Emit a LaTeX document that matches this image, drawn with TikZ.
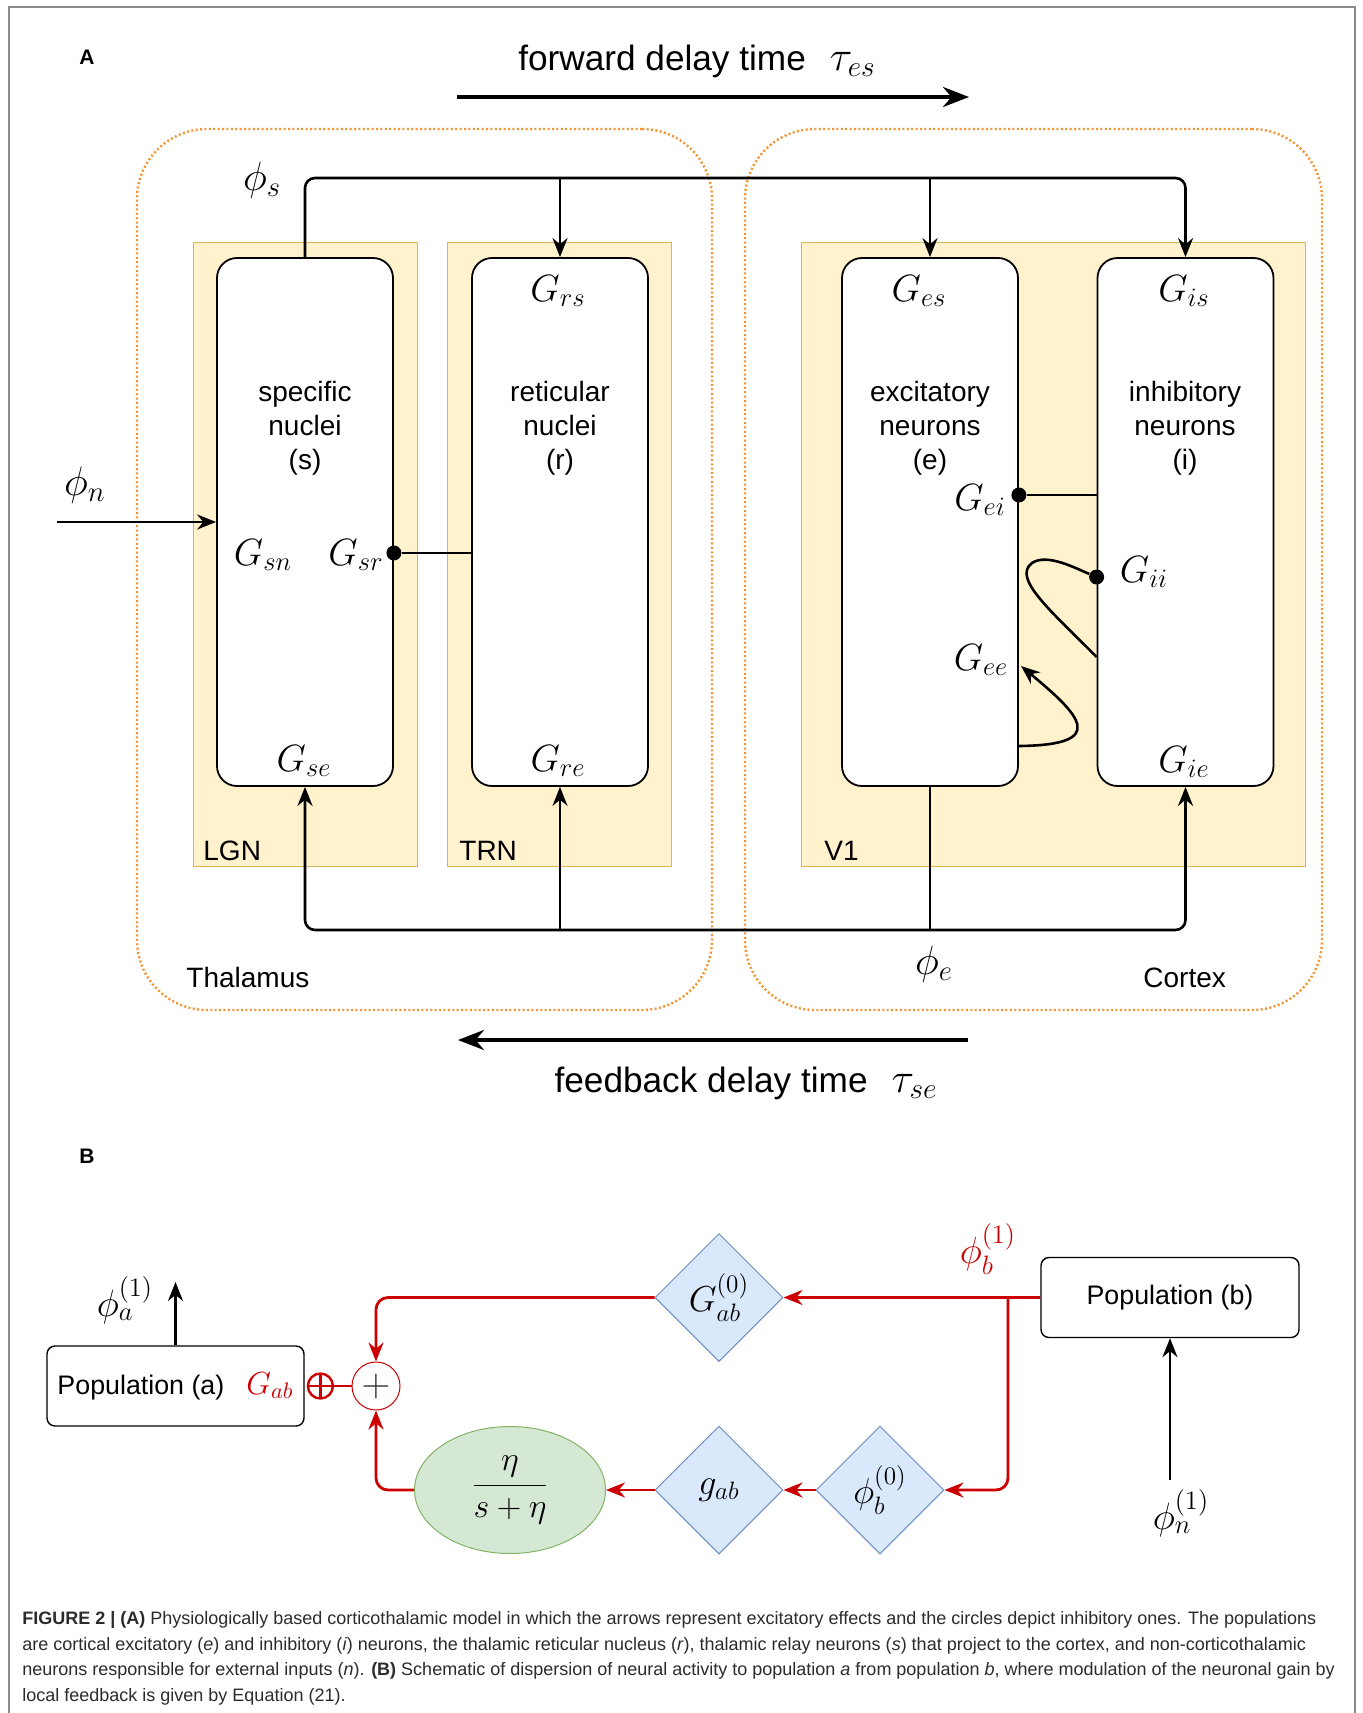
\RequirePackage{fix-cm}
\documentclass[tikz,border=0pt]{standalone}
\usepackage{amsmath}
\usepackage[no-math]{fontspec}
\setmainfont{Liberation Sans}
\usepackage{tikz}
\usetikzlibrary{
  shapes.geometric,
  arrows.meta,
  positioning,
  calc
}
\definecolor{RegionOrange}{HTML}{F39432}
\definecolor{PanelFill}{HTML}{FFF2CC}
\definecolor{PanelEdge}{HTML}{D6B656}
\definecolor{GainFill}{HTML}{DAE8FC}
\definecolor{GainEdge}{HTML}{6C8EBF}
\definecolor{FilterFill}{HTML}{D5E8D4}
\definecolor{FilterEdge}{HTML}{82B366}
\definecolor{LinkRed}{HTML}{CC0000}
\definecolor{FrameGrey}{HTML}{8A8A8A}
\definecolor{CaptionInk}{HTML}{2B2B2B}
\tikzset{
  % Dotted region outline (thalamus / cortex)
  region/.style={
    rectangle, rounded corners=35pt,
    draw=RegionOrange, line width=1.2pt, dash pattern=on 1pt off 1.2pt,
    minimum width=#1, minimum height=440.5pt, inner sep=0pt
  },
  % Pale yellow area panel
  panel/.style={
    rectangle, draw=PanelEdge, fill=PanelFill, line width=0.5pt,
    minimum width=#1, minimum height=312pt, inner sep=0pt
  },
  % Population box: tall, rounded
  popbox/.style={
    rectangle, rounded corners=10pt, draw=black, fill=white,
    line width=0.9pt, minimum width=88pt, minimum height=264pt, inner sep=0pt
  },
  % Text inside a population box
  poptext/.style={align=center, font=\fontsize{14}{17}\selectfont, inner sep=0pt},
  % Area / region name
  areaname/.style={anchor=west, font=\fontsize{14}{17}\selectfont, inner sep=0pt},
  % Gain symbol
  gain/.style={font=\fontsize{19}{19}\selectfont, inner sep=0pt},
  % Field symbol
  field/.style={font=\fontsize{20.5}{20.5}\selectfont, inner sep=0pt},
  % Inhibitory end point
  blob/.style={circle, fill=black, minimum size=7.5pt, inner sep=0pt},
  % Arrow
  arr/.style={
    -{Stealth[length=9.5pt,width=7.5pt]},
    line width=1.3pt, color=#1
  },
  arr/.default=black,
  % Plain line
  wire/.style={line width=1.3pt, color=#1},
  wire/.default=black,
  % Red feedback link
  redarr/.style={arr=LinkRed, line width=1.4pt},
  % Delay arrow
  delay/.style={-{Stealth[length=13pt,width=10pt]}, line width=2pt},
  delaytext/.style={anchor=base, font=\fontsize{17.6}{20}\selectfont, inner sep=0pt},
  % Panel letter
  letter/.style={font=\fontsize{10.5}{12}\selectfont\bfseries, inner sep=0pt},
  % Wide population box (panel B)
  popwide/.style={
    rectangle, rounded corners=4pt, draw=black, line width=0.7pt,
    minimum width=#1, minimum height=40pt, inner sep=0pt,
    font=\fontsize{13.4}{16}\selectfont
  },
  % Gain diamond
  gainbox/.style={
    diamond, aspect=1, draw=GainEdge, fill=GainFill, line width=0.5pt,
    minimum width=64pt, minimum height=64pt, inner sep=0pt,
    font=\fontsize{18}{18}\selectfont
  },
  % Low-pass filter ellipse
  filterbox/.style={
    ellipse, draw=FilterEdge, fill=FilterFill, line width=0.5pt,
    minimum width=95.5pt, minimum height=63.5pt, inner sep=0pt,
    font=\fontsize{17}{17}\selectfont
  },
  % Summing junction
  sumnode/.style={
    circle, draw=LinkRed, fill=white, line width=0.5pt,
    minimum size=24pt, inner sep=0pt, text=black!80,
    font=\fontsize{20}{20}\selectfont
  },
  % Circle-plus end marker
  oplus/.style={
    circle, draw=LinkRed, line width=1.2pt, minimum size=12.5pt, inner sep=0pt,
    path picture={
      \draw[LinkRed, line width=1.2pt]
        (path picture bounding box.north) -- (path picture bounding box.south)
        (path picture bounding box.west) -- (path picture bounding box.east);
    }
  },
  % Caption text
  captext/.style={align=left, inner sep=0pt, text=CaptionInk,
    font=\fontsize{9}{12.8}\selectfont}
}

\begin{document}
\begin{tikzpicture}[x=0.5pt, y=-0.5pt]

  \useasboundingbox (0,0) rectangle (1362,1713);
  % Page frame, open at the bottom
  \draw[FrameGrey, line width=1pt] (9,1713) -- (9,7) -- (1355,7) -- (1355,1713);

  % ---------- A ----------
  \node[letter] (la) at (87,57) {A};

  % Forward delay
  \coordinate (fwdA) at (457,97);
  \coordinate (fwdB) at (969,97);
  \draw[delay] (fwdA) -- (fwdB);
  \node[delaytext] (fwdtxt) at (697,70) {forward delay time\hspace{12pt}{\fontsize{21}{21}\selectfont$\tau_{es}$}};

  % Regions and areas
  \node[region=287.5pt] (thal) at (424.5,569.5) {};
  \node[region=288.5pt] (cort) at (1033.5,569.5) {};
  \node[areaname] (thaltxt) at (186,977) {Thalamus};
  \node[areaname] (corttxt) at (1143,978) {Cortex};

  \node[panel=112pt] (lgn)  at (305,554)  {};
  \node[panel=112pt] (trn)  at (559,554)  {};
  \node[panel=252pt] (vone) at (1053,554) {};
  \node[areaname] (lgntxt)  at (203,851) {LGN};
  \node[areaname] (trntxt)  at (459,851) {TRN};
  \node[areaname] (vonetxt) at (824,851) {V1};

  % Populations
  \node[popbox] (spec) at (305,522)    {};
  \node[popbox] (ret)  at (560,522)    {};
  \node[popbox] (exc)  at (930,522)    {};
  \node[popbox] (inh)  at (1185.5,522) {};

  \node[poptext] (spectxt) at (305,428)  {specific\\nuclei\\(s)};
  \node[poptext] (rettxt)  at (560,428)  {reticular\\nuclei\\(r)};
  \node[poptext] (exctxt)  at (930,428)  {excitatory\\neurons\\(e)};
  \node[poptext] (inhtxt)  at (1185,428) {inhibitory\\neurons\\(i)};

  % Gains
  \node[gain] (grs) at (558,291)  {$G_{rs}$};
  \node[gain] (ges) at (919,291)  {$G_{es}$};
  \node[gain] (gis) at (1184,291) {$G_{is}$};
  \node[gain] (gsn) at (263,555)  {$G_{sn}$};
  \node[gain] (gsr) at (356,555)  {$G_{sr}$};
  \node[gain] (gse) at (304,761)  {$G_{se}$};
  \node[gain] (gre) at (558,761)  {$G_{re}$};
  \node[gain] (gie) at (1184,762) {$G_{ie}$};
  \node[gain] (gei) at (980,500)  {$G_{ei}$};
  \node[gain] (gii) at (1144,572) {$G_{ii}$};
  \node[gain] (gee) at (981,660)  {$G_{ee}$};

  % Fields
  \node[field] (phislab) at (262,180) {$\phi_s$};
  \node[field] (phinlab) at (85,485)  {$\phi_n$};
  \node[field] (phielab) at (934,964) {$\phi_e$};

  % phi_s bus
  \coordinate (phis) at (spec.north |- 0,178);
  \draw[arr, rounded corners=5pt] (spec.north) -- (phis) -| (inh.north);
  \draw[arr] (ret.north |- phis) -- (ret.north);
  \draw[arr] (exc.north |- phis) -- (exc.north);

  % phi_e bus
  \coordinate (fb) at (exc.south |- 0,930);
  \draw[wire] (exc.south) -- (fb);
  \draw[arr, rounded corners=5pt] (fb) -| (spec.south);
  \draw[arr, rounded corners=5pt] (fb) -| (inh.south);
  \draw[arr] (ret.south |- fb) -- (ret.south);

  % phi_n input
  \coordinate (phinsrc) at (57,522);
  \draw[arr] (phinsrc) -- (spec.west |- phinsrc);

  % Inhibitory links
  \node[blob] (dsr) at (spec.east |- 0,553) {};
  \draw[wire] (dsr) -- (ret.west |- dsr);
  \node[blob] (dei) at (exc.east |- 0,495) {};
  \draw[wire] (dei) -- (inh.west |- dei);
  \node[blob] (dii) at (inh.west |- 0,577) {};
  \coordinate (iiend) at (inh.west |- 0,657);
  \draw[wire] (iiend) .. controls (1050,610) and (1012,578) .. (1032,563)
                      .. controls (1047,553) and (1075,568) .. (dii);

  % Excitatory self loop
  \coordinate (eestart) at (exc.east |- 0,746);
  \coordinate (eetip) at (1021,666);
  \draw[arr] (eestart) .. controls (1110,745) and (1080,715) .. (eetip);

  % Feedback delay
  \coordinate (fbkA) at (968,1040);
  \coordinate (fbkB) at (458,1040);
  \draw[delay] (fbkA) -- (fbkB);
  \node[delaytext] (fbktxt) at (746,1092) {feedback delay time\hspace{12pt}{\fontsize{21}{21}\selectfont$\tau_{se}$}};

  % ---------- B ----------
  \node[letter] (lb) at (87,1156) {B};

  \node[popwide=128.5pt] (popa) at (175.5,1386) {Population (a)\hspace{11pt}{\color{LinkRed}\fontsize{16}{16}\selectfont$G_{ab}$}};
  \node[popwide=129pt]   (popb) at (1170,1297.5) {Population (b)};
  \node[oplus, anchor=west] (opl) at ([xshift=1pt]popa.east) {};
  \node[sumnode]   (sum)   at (376,1386)    {$+$};
  \node[gainbox]   (gab0)  at (719,1297.5)  {$G^{(0)}_{ab}$};
  \node[gainbox]   (gab)   at (719,1490)    {$g_{ab}$};
  \node[gainbox]   (phib0) at (880,1490)    {$\phi^{(0)}_{b}$};
  \node[filterbox] (filt)  at (510,1490)    {$\dfrac{\eta}{s+\eta}$};

  \draw[redarr] (popb.west) -- (gab0.east);
  \coordinate (split) at (1008,1297.5);
  \draw[redarr, rounded corners=6pt] (split) |- (phib0.east);
  \draw[redarr] (phib0.west) -- (gab.east);
  \draw[redarr] (gab.west) -- (filt.east);
  \draw[redarr, rounded corners=6pt] (gab0.west) -| (sum.north);
  \draw[redarr, rounded corners=6pt] (filt.west) -| (sum.south);
  \draw[wire=LinkRed, line width=1.4pt] (sum.west) -- (opl.east);

  \coordinate (phiaout) at (popa.north |- 0,1282);
  \draw[arr] (popa.north) -- (phiaout);
  \coordinate (phinin) at (popb.south |- 0,1480);
  \draw[arr] (phinin) -- (popb.south);

  \node[gain] (phialab) at (125,1300) {$\phi^{(1)}_{a}$};
  \node[gain, text=LinkRed] (phiblab) at (988,1249) {$\phi^{(1)}_{b}$};
  \node[gain] (phinlab1) at (1181,1513) {$\phi^{(1)}_{n}$};

  % Caption
  \node[captext, anchor=north west] (cap) at (22,1611) {%
    \textbf{FIGURE 2 | (A)} Physiologically based corticothalamic model in which the arrows represent excitatory effects and the circles depict inhibitory ones. The populations\\
    are cortical excitatory (\textit{e}) and inhibitory (\textit{i}) neurons, the thalamic reticular nucleus (\textit{r}), thalamic relay neurons (\textit{s}) that project to the cortex, and non-corticothalamic\\
    neurons responsible for external inputs (\textit{n}). \textbf{(B)} Schematic of dispersion of neural activity to population \textit{a} from population \textit{b}, where modulation of the neuronal gain by\\
    local feedback is given by Equation (21).};

\end{tikzpicture}
\end{document}
